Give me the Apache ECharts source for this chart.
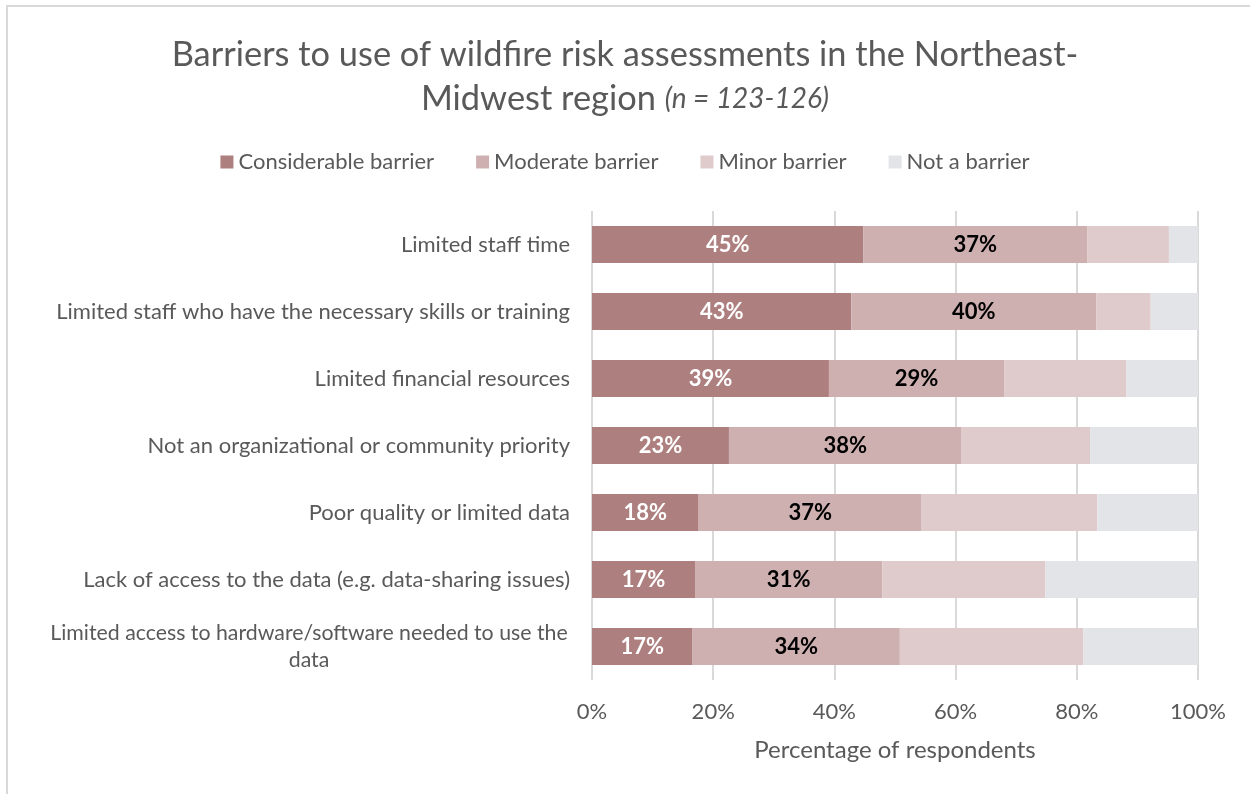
<!DOCTYPE html>
<html>
<head>
<meta charset="utf-8">
<script src="https://cdn.jsdelivr.net/npm/echarts@6/dist/echarts.min.js"></script>
<style>
  body { margin: 0; background: #fff; overflow: hidden; }
  #frame { position: absolute; left: 6px; top: 5px; width: 1300px; height: 900px; border: 2px solid #d9d9d9; }
  #chart { position: absolute; left: 0; top: 0; width: 1250px; height: 794px; }
</style>
</head>
<body>
<div id="frame"></div>
<div id="chart"></div>
<script>
// ---------------- data ----------------
const categories = [
  'Limited staff time',
  'Limited staff who have the necessary skills or training',
  'Limited financial resources',
  'Not an organizational or community priority',
  'Poor quality or limited data',
  'Lack of access to the data (e.g. data-sharing issues)',
  'Limited access to hardware/software needed to use the\ndata'
]
const seriesNames = ['Considerable barrier', 'Moderate barrier', 'Minor barrier', 'Not a barrier']
const considerable = [44.8, 42.8, 39.1, 22.6, 17.6, 17.0, 16.6]
const moderate = [36.9, 40.4, 28.9, 38.4, 36.8, 30.9, 34.2]
const minor = [13.5, 9.0, 20.2, 21.2, 29.0, 26.9, 30.3]
const notBarrier = [4.8, 7.8, 11.8, 17.8, 16.6, 25.2, 18.9]
const xTicks = [0, 20, 40, 60, 80, 100]

const colors = ['#AE7F7F', '#CFB0B1', '#DFCBCC', '#E3E4E8']
const font = 'Lato'

//---------------------------堆叠条形图
function barChart() {
  let myChart = echarts.init(document.querySelector('#chart'))

  // 数据标签：只显示前两组
  function labelStyle(color) {
    return {
      show: true,
      position: 'inside',
      color: color,
      fontFamily: font,
      fontWeight: 'bold',
      fontSize: 22,
      formatter: p => Math.round(p.value) + '%'
    }
  }

  let option = {
    textStyle: { fontFamily: font },
    title: {
      text: 'Barriers to use of wildfire risk assessments in the Northeast-\nMidwest region {i|(n = 123-126)}',
      left: 'center',
      top: 28,
      textStyle: {
        fontFamily: font,
        fontSize: 34.4,
        fontWeight: 'normal',
        color: '#595959',
        lineHeight: 44,
        rich: {
          i: { fontFamily: font, fontSize: 28, fontStyle: 'italic', color: '#595959', lineHeight: 44 }
        }
      }
    },
    legend: {
      data: seriesNames,
      top: 146,
      left: 'center',
      itemWidth: 13,
      itemHeight: 13,
      itemGap: 42,
      icon: 'rect',
      textStyle: { fontFamily: font, fontSize: 22, color: '#595959' }
    },
    grid: {
      left: 592,
      right: 52,
      top: 211,
      bottom: 114
    },
    xAxis: {
      type: 'value',
      min: xTicks[0],
      max: xTicks[xTicks.length - 1],
      interval: 20,
      axisLine: { show: false },
      axisTick: { show: false },
      splitLine: { lineStyle: { color: '#d9d9d9', width: 2 } },
      axisLabel: {
        formatter: '{value}%',
        color: '#595959',
        fontSize: 22,
        fontFamily: font,
        margin: 21
      },
      name: 'Percentage of respondents',
      nameLocation: 'middle',
      nameGap: 58,
      nameTextStyle: { fontFamily: font, fontSize: 24, color: '#595959' }
    },
    yAxis: {
      type: 'category',
      inverse: true,
      data: categories,
      axisLine: { show: false },
      axisTick: { show: false },
      axisLabel: {
        color: '#595959',
        fontSize: 22,
        fontFamily: font,
        margin: 22,
        formatter: v => v.indexOf('\n') >= 0 ? '{c|' + v + '}' : v,
        rich: {
          c: { width: 522, align: 'center', fontSize: 21.3, fontFamily: font, color: '#595959', lineHeight: 27 }
        }
      }
    },
    series: [
      { name: seriesNames[0], type: 'bar', stack: 'all', data: considerable, barCategoryGap: '45%', itemStyle: { color: colors[0] }, label: labelStyle('#ffffff') },
      { name: seriesNames[1], type: 'bar', stack: 'all', data: moderate, itemStyle: { color: colors[1] }, label: labelStyle('#000000') },
      { name: seriesNames[2], type: 'bar', stack: 'all', data: minor, itemStyle: { color: colors[2] } },
      { name: seriesNames[3], type: 'bar', stack: 'all', data: notBarrier, itemStyle: { color: colors[3] } }
    ]
  }
  myChart.setOption(option)
}
barChart()
</script>
</body>
</html>
